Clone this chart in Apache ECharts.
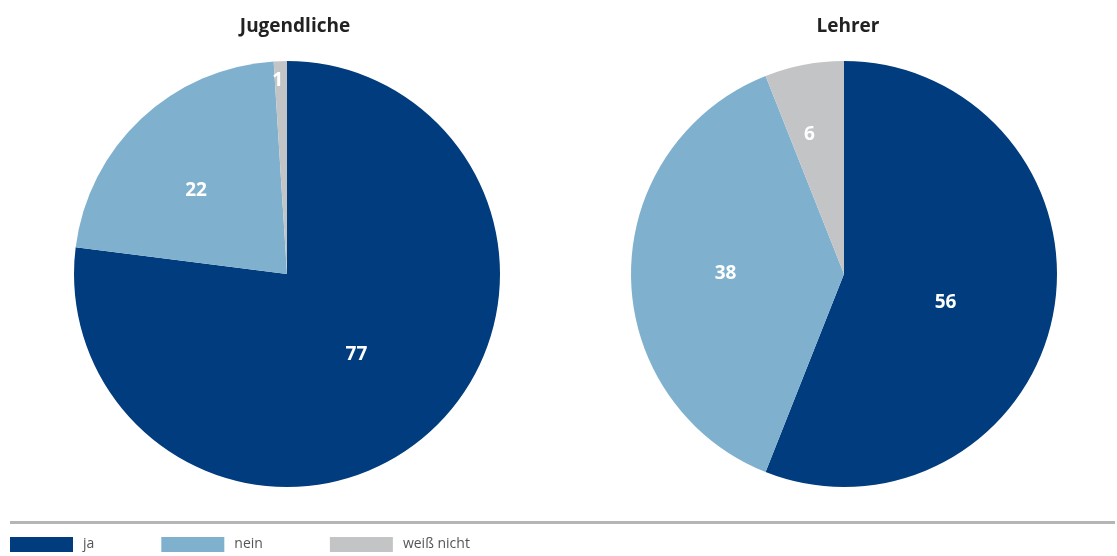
<!DOCTYPE html>
<html>
<head>
<meta charset="utf-8">
<script src="https://cdn.jsdelivr.net/npm/echarts@6/dist/echarts.min.js"></script>
<style>
  html, body { margin: 0; padding: 0; background: #fff; }
  #chart { width: 1117px; height: 556px; }
</style>
</head>
<body>
<div id="chart"></div>
<script>
// Answer categories and shares (percent) for both groups
const categories = ['ja', 'nein', 'weiß nicht'];
const groupTitles = ['Jugendliche', 'Lehrer'];
const jugendlicheValues = [77, 22, 1];
const lehrerValues = [56, 38, 6];

const colors = ['#003c7e', '#7fb1cf', '#c3c4c6'];
const fontFamily = '"Open Sans", "Noto Sans", sans-serif';

// Label nudges so the numbers sit where they read best inside each slice
const jugendlicheOffsets = [[-3, -2], [-16, -4], [-6, -84]];
const lehrerOffsets = [[-6, 8], [-9, 0], [-14, -32]];

function buildData(values, offsets) {
  return categories.map((name, i) => ({
    name: name,
    value: values[i],
    itemStyle: { color: colors[i] },
    label: { offset: offsets[i] }
  }));
}

function pieSeries(name, values, offsets, cx) {
  return {
    name: name,
    type: 'pie',
    center: [cx, 274],
    radius: [0, 213],
    startAngle: 90,
    clockwise: true,
    avoidLabelOverlap: false,
    silent: true,
    animation: false,
    itemStyle: { borderWidth: 0 },
    label: {
      show: true,
      position: 'inside',
      formatter: '{c}',
      color: '#ffffff',
      fontSize: 19,
      fontWeight: 'bold',
      fontFamily: fontFamily
    },
    labelLine: { show: false },
    data: buildData(values, offsets)
  };
}

const chart = echarts.init(document.getElementById('chart'), null, { renderer: 'canvas' });

chart.setOption({
  backgroundColor: '#ffffff',
  animation: false,
  title: [
    {
      text: groupTitles[0], left: 290, top: 12, textAlign: 'center',
      textStyle: { fontSize: 19, fontWeight: 'bold', color: '#222222', fontFamily: fontFamily }
    },
    {
      text: groupTitles[1], left: 843, top: 12, textAlign: 'center',
      textStyle: { fontSize: 19, fontWeight: 'bold', color: '#222222', fontFamily: fontFamily }
    }
  ],
  legend: {
    data: categories,
    left: 10,
    top: 537,
    padding: 0,
    orient: 'horizontal',
    itemWidth: 63,
    itemHeight: 15,
    itemGap: 67,
    icon: 'rect',
    selectedMode: false,
    textStyle: { fontSize: 14, color: '#555555', fontFamily: fontFamily, padding: [5, 0, 0, 5] }
  },
  graphic: [
    {
      type: 'line',
      shape: { x1: 10, y1: 522.5, x2: 1115, y2: 522.5 },
      style: { stroke: '#b5b5b5', lineWidth: 3 },
      silent: true
    }
  ],
  series: [
    pieSeries(groupTitles[0], jugendlicheValues, jugendlicheOffsets, 287),
    pieSeries(groupTitles[1], lehrerValues, lehrerOffsets, 844)
  ]
});
</script>
</body>
</html>
